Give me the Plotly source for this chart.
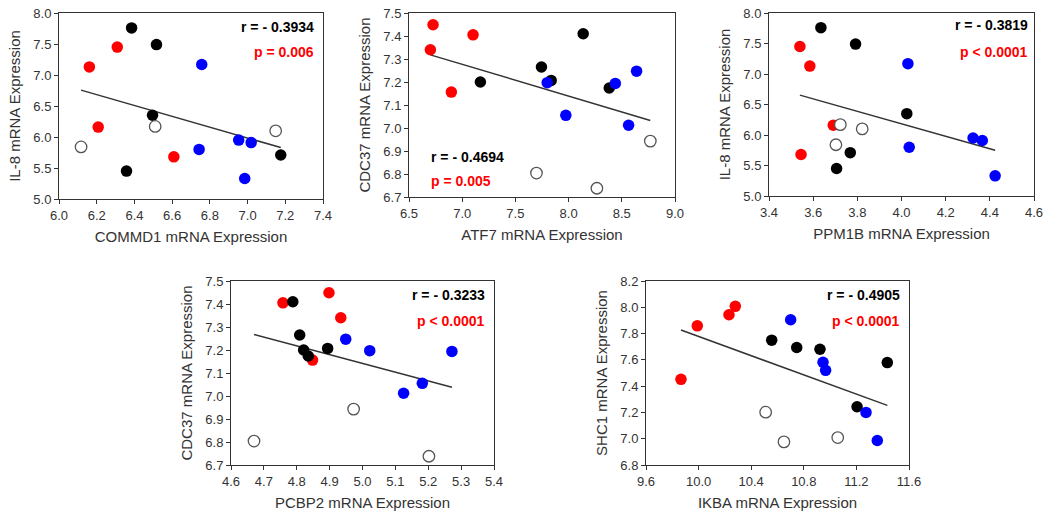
import numpy as np
import plotly.graph_objects as go

W, H = 1048, 514

# ---- data (groups: red, black, blue, open) ----
il8_red = [7.45, 7.13, 6.16, 5.68]
il8_black = [7.76, 7.49, 6.35, 5.71, 5.45]
il8_blue = [7.17, 5.80, 5.95, 5.91, 5.33]
il8_open = [6.17, 6.10, 5.84]

commd1_red = [6.309, 6.161, 6.208, 6.609]
commd1_black = [6.385, 6.517, 6.496, 7.176, 6.358]
commd1_blue = [6.757, 6.743, 6.953, 7.019, 6.985]
commd1_open = [6.510, 7.149, 6.117]

ppm1b_red = [3.540, 3.585, 3.691, 3.545]
ppm1b_black = [3.635, 3.792, 4.024, 3.768, 3.706]
ppm1b_blue = [4.029, 4.035, 4.324, 4.366, 4.424]
ppm1b_open = [3.723, 3.822, 3.703]

cdc37_red = [7.449, 7.340, 7.405, 7.156]
cdc37_black = [7.200, 7.265, 7.207, 7.410, 7.174]
cdc37_blue = [7.197, 7.194, 7.247, 7.055, 7.012]
cdc37_open = [6.804, 6.738, 6.943]

atf7_red = [6.726, 6.701, 7.102, 6.898]
atf7_black = [7.171, 7.745, 7.836, 8.137, 8.382]
atf7_blue = [7.799, 8.439, 8.639, 7.974, 8.564]
atf7_open = [7.698, 8.266, 8.768]

pcbp2_red = [4.898, 4.934, 4.758, 4.848]
pcbp2_black = [4.821, 4.809, 4.894, 4.788, 4.835]
pcbp2_blue = [5.022, 5.272, 4.949, 5.182, 5.125]
pcbp2_open = [4.670, 5.202, 4.973]

shc1_red = [7.452, 7.859, 7.943, 8.007]
shc1_black = [7.750, 7.694, 7.681, 7.579, 7.243]
shc1_blue = [7.905, 7.582, 7.520, 7.200, 6.986]
shc1_open = [7.202, 6.976, 7.009]

ikba_red = [9.866, 9.990, 10.231, 10.279]
ikba_black = [10.556, 10.746, 10.923, 11.435, 11.205]
ikba_blue = [10.700, 10.946, 10.966, 11.273, 11.359]
ikba_open = [10.510, 10.649, 11.058]

r_labels = ['r = - 0.3934', 'r = - 0.4694', 'r = - 0.3819', 'r = - 0.3233', 'r = - 0.4905']
p_labels = ['p = 0.006', 'p = 0.005', 'p < 0.0001', 'p < 0.0001', 'p < 0.0001']

panels = [
    dict(x=[commd1_red, commd1_black, commd1_blue, commd1_open],
         y=[il8_red, il8_black, il8_blue, il8_open],
         xt='COMMD1 mRNA Expression', yt='IL-8 mRNA Expression',
         xr=(6.0, 7.4), xd=0.2, yr=(5.0, 8.0), yd=0.5,
         box=(59, 323, 13, 199), txt=(0.973, 'right', 0.925, 0.79)),
    dict(x=[atf7_red, atf7_black, atf7_blue, atf7_open],
         y=[cdc37_red, cdc37_black, cdc37_blue, cdc37_open],
         xt='ATF7 mRNA Expression', yt='CDC37 mRNA Expression',
         xr=(6.5, 9.0), xd=0.5, yr=(6.7, 7.5), yd=0.1,
         box=(409, 675, 13, 197), txt=(0.075, 'left', 0.217, 0.087)),
    dict(x=[ppm1b_red, ppm1b_black, ppm1b_blue, ppm1b_open],
         y=[il8_red, il8_black, il8_blue, il8_open],
         xt='PPM1B mRNA Expression', yt='IL-8 mRNA Expression',
         xr=(3.4, 4.6), xd=0.2, yr=(5.0, 8.0), yd=0.5,
         box=(769, 1034, 13, 196), txt=(0.985, 'right', 0.934, 0.787)),
    dict(x=[pcbp2_red, pcbp2_black, pcbp2_blue, pcbp2_open],
         y=[cdc37_red, cdc37_black, cdc37_blue, cdc37_open],
         xt='PCBP2 mRNA Expression', yt='CDC37 mRNA Expression',
         xr=(4.6, 5.4), xd=0.1, yr=(6.7, 7.5), yd=0.1,
         box=(231, 494, 281, 465), txt=(0.973, 'right', 0.924, 0.783)),
    dict(x=[ikba_red, ikba_black, ikba_blue, ikba_open],
         y=[shc1_red, shc1_black, shc1_blue, shc1_open],
         xt='IKBA mRNA Expression', yt='SHC1 mRNA Expression',
         xr=(9.6, 11.6), xd=0.4, yr=(6.8, 8.2), yd=0.2,
         box=(646, 909, 281, 465), txt=(0.973, 'right', 0.924, 0.783)),
]

group_style = [
    dict(color='#ff0000', line=dict(width=0)),
    dict(color='#000000', line=dict(width=0)),
    dict(color='#0000ff', line=dict(width=0)),
    dict(color='white', line=dict(width=1.3, color='#555555')),
]

font = 'Liberation Sans, Arial, sans-serif'
fig = go.Figure()
layout = dict(width=W, height=H, margin=dict(l=0, r=0, t=0, b=0),
              paper_bgcolor='white', plot_bgcolor='white', showlegend=False,
              font=dict(family=font, color='#333333'))
annotations = []

for i, p in enumerate(panels):
    n = '' if i == 0 else str(i + 1)
    xa, ya = 'x' + n, 'y' + n
    allx = np.concatenate([np.array(v) for v in p['x']])
    ally = np.concatenate([np.array(v) for v in p['y']])
    k, b = np.polyfit(allx, ally, 1)
    lx = np.array([allx.min(), allx.max()])
    fig.add_trace(go.Scatter(x=lx, y=k * lx + b, mode='lines', xaxis=xa, yaxis=ya,
                             line=dict(color='#333333', width=1.5), hoverinfo='skip'))
    for gx, gy, st in zip(p['x'], p['y'], group_style):
        fig.add_trace(go.Scatter(x=gx, y=gy, mode='markers', xaxis=xa, yaxis=ya,
                                 marker=dict(size=11.5, **st)))
    x0, x1, y0, y1 = p['box']
    axis_common = dict(showgrid=False, zeroline=False, showline=True, linecolor='#333333',
                       linewidth=1, mirror=True, ticks='outside', ticklen=4,
                       tickcolor='#333333', tickformat='.1f', automargin=False,
                       tickfont=dict(size=13, color='#333333'))
    layout['xaxis' + n] = dict(domain=[x0 / W, x1 / W], anchor=ya, range=list(p['xr']),
                               dtick=p['xd'], tick0=p['xr'][0],
                               title=dict(text=p['xt'], font=dict(size=15), standoff=9),
                               **axis_common)
    layout['yaxis' + n] = dict(domain=[1 - y1 / H, 1 - y0 / H], anchor=xa, range=list(p['yr']),
                               dtick=p['yd'], tick0=p['yr'][0],
                               title=dict(text=p['yt'], font=dict(size=15), standoff=9),
                               **axis_common)
    tx, align, ry, py = p['txt']
    for text, yy, col in [(r_labels[i], ry, '#000000'), (p_labels[i], py, '#ff0000')]:
        annotations.append(dict(text='<b>' + text + '</b>', xref=xa + ' domain', yref=ya + ' domain',
                                x=tx, y=yy, xanchor=align, yanchor='middle', showarrow=False,
                                font=dict(size=14, color=col, family=font)))

layout['annotations'] = annotations
fig.update_layout(**layout)
# drop the browser's default body margin so the figure fills the window exactly
fig.write_html('out.html', config={'displayModeBar': False},
               post_script="document.body.style.margin='0';")
